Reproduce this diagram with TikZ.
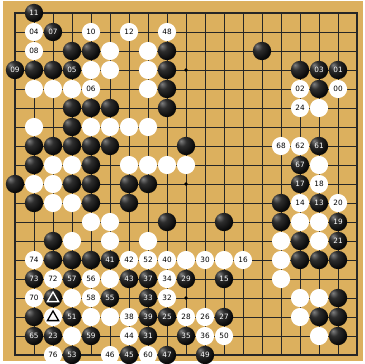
\documentclass[tikz,border=0pt]{standalone}
\usepackage{fontspec}
\newfontfamily\stonefont{DejaVu Sans}
\definecolor{boardtan}{RGB}{220,176,94}
\pgfdeclareradialshading{blackstone}{\pgfpoint{-14bp}{14bp}}{color(0bp)=(black!50); color(12bp)=(black!82); color(30bp)=(black!96); color(70bp)=(black)}
\pgfdeclareradialshading{whitestone}{\pgfpoint{-8bp}{8bp}}{color(0bp)=(white); color(30bp)=(white); color(46bp)=(black!10); color(56bp)=(black!35); color(70bp)=(black!45)}
\tikzset{
  bs/.style={circle, minimum size=18.4pt, inner sep=0pt, shading=blackstone, text=white, font=\stonefont\fontsize{7.3}{8}\selectfont},
  ws/.style={circle, minimum size=18.2pt, inner sep=0pt, shading=whitestone, text=black, font=\stonefont\fontsize{7.3}{8}\selectfont},
  gridline/.style={line width=0.8pt, black!85},
  borderline/.style={line width=1.4pt, black!85},
  starpt/.style={circle, fill=black, minimum size=3.6pt, inner sep=0pt},
  trimark/.style={line width=1.3pt}
}
\begin{document}
\begin{tikzpicture}[x=1pt,y=-1pt]
\useasboundingbox (0,0) rectangle (364,364);
\fill[white] (0,0) rectangle (364,364);
\fill[boardtan] (3,1) rectangle (363,361);
% grid
\foreach \i in {1,...,17} {
  \draw[gridline] ({15+19*\i},13) -- ({15+19*\i},355);
  \draw[gridline] (15,{13+19*\i}) -- (357,{13+19*\i});
}
\draw[borderline] (15,13) rectangle (357,355);
\foreach \c/\r in {3/3,9/3,15/3,3/9,9/9,15/9,3/15,9/15,15/15}
  \node[starpt] (h\c-\r) at ({15+19*\c},{13+19*\r}) {};
% black stones
\foreach \c/\r/\t in {
  1/0/11,
  2/1/07,
  3/2/,4/2/,8/2/,13/2/,
  0/3/09,1/3/,2/3/,3/3/05,8/3/,15/3/,16/3/03,17/3/01,
  8/4/,16/4/,
  3/5/,4/5/,5/5/,8/5/,
  3/6/,
  1/7/,2/7/,3/7/,4/7/,5/7/,9/7/,16/7/61,
  1/8/,4/8/,15/8/67,
  0/9/,3/9/,4/9/,6/9/,7/9/,15/9/17,
  1/10/,4/10/,6/10/,14/10/,16/10/13,
  8/11/,11/11/,14/11/,17/11/19,
  2/12/,15/12/,17/12/21,
  2/13/,3/13/,4/13/,5/13/41,15/13/,16/13/,17/13/,
  1/14/73,3/14/57,6/14/43,7/14/37,9/14/29,11/14/15,
  2/15/,5/15/55,7/15/33,17/15/,
  1/16/,3/16/51,7/16/39,8/16/25,11/16/27,16/16/,17/16/,
  1/17/65,2/17/23,4/17/59,7/17/31,9/17/35,17/17/,
  3/18/53,6/18/45,8/18/47,10/18/49}
  \node[bs] (b\c-\r) at ({15+19*\c},{13+19*\r}) {\t};
% white stones
\foreach \c/\r/\t in {
  1/1/04,4/1/10,6/1/12,8/1/48,
  1/2/08,5/2/,7/2/,
  4/3/,5/3/,7/3/,
  1/4/,2/4/,3/4/,4/4/06,7/4/,15/4/02,17/4/00,
  15/5/24,16/5/,
  1/6/,4/6/,5/6/,6/6/,7/6/,
  14/7/68,15/7/62,
  2/8/,3/8/,6/8/,7/8/,8/8/,9/8/,16/8/,
  1/9/,2/9/,16/9/18,
  2/10/,3/10/,15/10/14,17/10/20,
  4/11/,5/11/,15/11/,16/11/,
  3/12/,5/12/,7/12/,14/12/,16/12/,
  1/13/74,6/13/42,7/13/52,8/13/40,9/13/,10/13/30,11/13/,12/13/16,14/13/,
  2/14/72,4/14/56,5/14/,8/14/34,14/14/,
  1/15/70,3/15/,4/15/58,8/15/32,15/15/,16/15/,
  2/16/,4/16/,5/16/,6/16/38,9/16/28,10/16/26,15/16/,
  3/17/,6/17/44,10/17/36,11/17/50,16/17/,
  2/18/76,5/18/46,7/18/60}
  \node[ws] (w\c-\r) at ({15+19*\c},{13+19*\r}) {\t};
% triangle markers
\draw[trimark, white] ([yshift=6pt]b2-15.center) -- ([xshift=-5.6pt,yshift=-3.6pt]b2-15.center) -- ([xshift=5.6pt,yshift=-3.6pt]b2-15.center) -- cycle;
\draw[trimark, black] ([yshift=6pt]w2-16.center) -- ([xshift=-5.6pt,yshift=-3.6pt]w2-16.center) -- ([xshift=5.6pt,yshift=-3.6pt]w2-16.center) -- cycle;
\end{tikzpicture}
\end{document}
